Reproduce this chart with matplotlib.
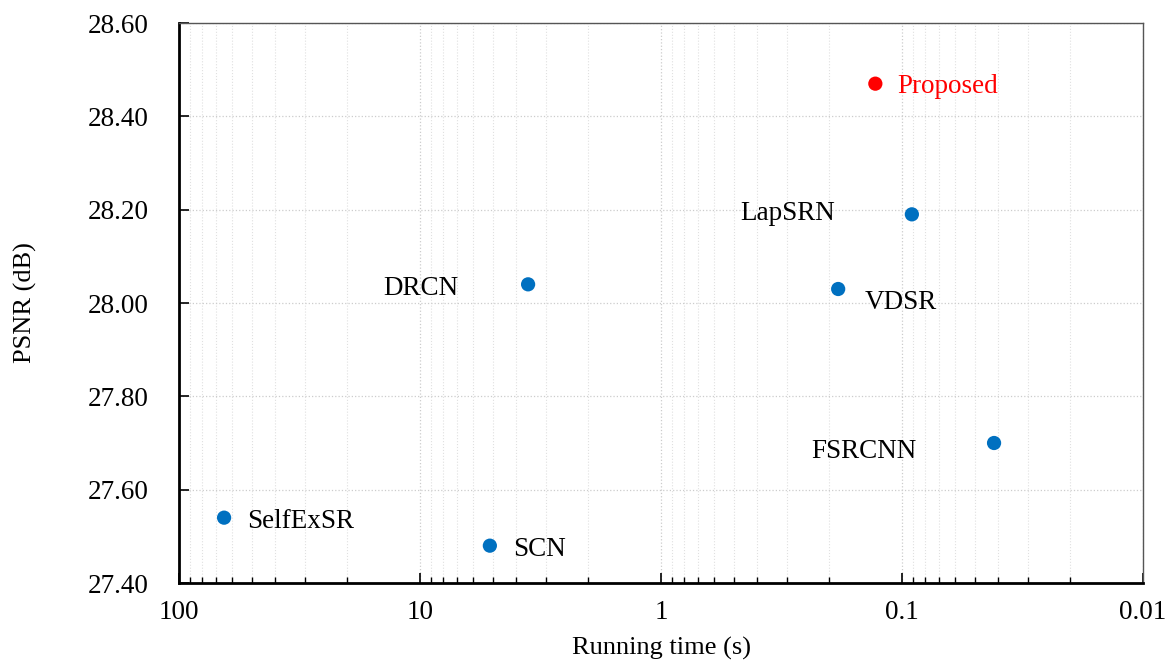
import numpy as np
import matplotlib.pyplot as plt
from matplotlib.ticker import LogLocator, NullFormatter

plt.rcParams['font.family'] = ['Liberation Serif', 'DejaVu Serif']

methods = ['SelfExSR', 'SCN', 'DRCN', 'VDSR', 'LapSRN', 'FSRCNN', 'Proposed']
run_time = [65.0, 5.13, 3.56, 0.184, 0.091, 0.0415, 0.129]
psnr = [27.54, 27.48, 28.04, 28.03, 28.19, 27.70, 28.47]
colors = ['#0070C0'] * 6 + ['#FF0000']
# label offsets in pixels (dx, dy) and alignment
offsets = [(23, -4, 'left'), (23, -4, 'left'), (-70, -4, 'right'), (27, -13, 'left'),
           (-77, 1, 'right'), (-78, -8, 'right'), (22, -3, 'left')]

fig = plt.figure(figsize=(11.67, 6.61), dpi=100)
ax = fig.add_axes([179/1167, 1 - 583/661, (1143-179)/1167, (583-23)/661])

ax.scatter(run_time, psnr, s=105, c=colors, zorder=3, linewidths=0)
for m, x, y, c, (dx, dy, ha) in zip(methods, run_time, psnr, colors, offsets):
    ax.annotate(m, (x, y), xytext=(dx, dy), textcoords='offset pixels',
                ha=ha, va='center', fontsize=19.5,
                color='red' if m == 'Proposed' else 'black')

ax.set_xscale('log')
ax.set_xlim(100, 0.01)
ax.set_ylim(27.40, 28.60)
ax.set_xticks([100, 10, 1, 0.1, 0.01])
ax.set_xticklabels(['100', '10', '1', '0.1', '0.01'])
ax.xaxis.set_minor_locator(LogLocator(base=10, subs=np.arange(2, 10)))
ax.xaxis.set_minor_formatter(NullFormatter())
yt = np.arange(27.40, 28.61, 0.20)
ax.set_yticks(yt)
ax.set_yticklabels(['%.2f' % v for v in yt])

ax.grid(True, which='major', color='#cccccc', linestyle=':', linewidth=0.9)
ax.grid(True, which='minor', axis='x', color='#e0e0e0', linestyle=':', linewidth=0.8)
ax.set_axisbelow(True)

ax.tick_params(axis='both', which='both', direction='in', labelsize=19.5)
ax.tick_params(axis='x', which='major', length=7, width=1.2, pad=12)
ax.tick_params(axis='x', which='minor', length=4, width=1)
ax.tick_params(axis='y', which='major', length=7, width=1.2, pad=22)
ax.tick_params(top=False, right=False, which='both')

for s in ['left', 'bottom']:
    ax.spines[s].set_linewidth(2)
    ax.spines[s].set_color('black')
for s in ['top', 'right']:
    ax.spines[s].set_linewidth(1)
    ax.spines[s].set_color('#555555')

ax.set_xlabel('Running time (s)', fontsize=19, va='center')
ax.set_ylabel('PSNR (dB)', fontsize=19, va='center')
ax.xaxis.set_label_coords(0.5, -(648 - 583) / 560)
ax.yaxis.set_label_coords(-(179 - 25) / 964, 0.5)

plt.savefig('out.png', dpi=100)
